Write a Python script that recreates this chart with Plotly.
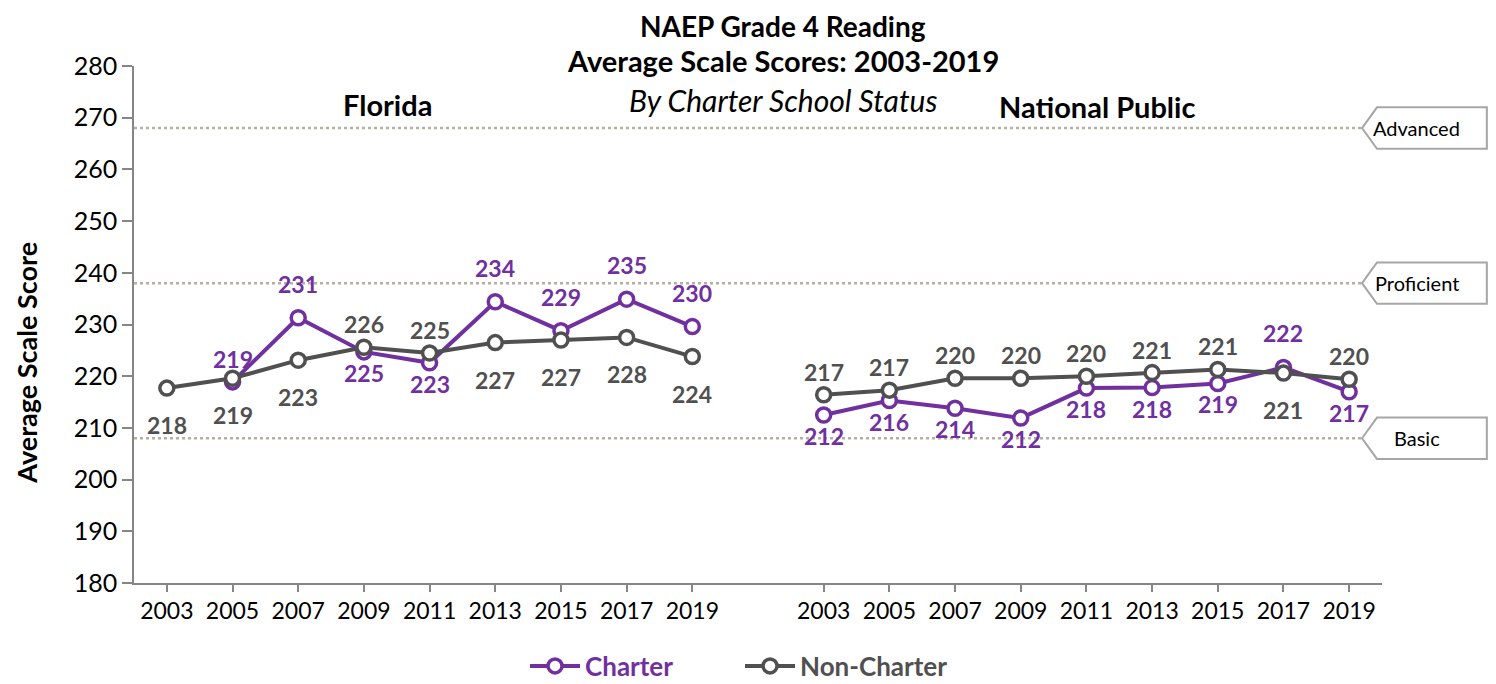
import plotly.graph_objects as go

# Category labels (Florida block, one blank slot, National Public block)
YEARS = ["2003", "2005", "2007", "2009", "2011", "2013", "2015", "2017", "2019"]

# Florida
FL_CHARTER = [None, 218.9, 231.3, 224.7, 222.6, 234.4, 228.8, 234.9, 229.6]
FL_NONCHARTER = [217.7, 219.6, 223.1, 225.6, 224.5, 226.5, 227.0, 227.5, 223.8]
FL_CHARTER_LBL = ["", "219", "231", "225", "223", "234", "229", "235", "230"]
FL_NONCHARTER_LBL = ["218", "219", "223", "226", "225", "227", "227", "228", "224"]

# National Public
NP_CHARTER = [212.5, 215.3, 213.8, 211.9, 217.7, 217.8, 218.6, 221.7, 217.0]
NP_NONCHARTER = [216.4, 217.3, 219.6, 219.6, 220.0, 220.7, 221.3, 220.6, 219.4]
NP_CHARTER_LBL = ["212", "216", "214", "212", "218", "218", "219", "222", "217"]
NP_NONCHARTER_LBL = ["217", "217", "220", "220", "220", "221", "221", "221", "220"]

# Achievement level cut scores
LEVELS = ["Advanced", "Proficient", "Basic"]
LEVEL_SCORES = [268, 238, 208]

PURPLE = "#7030A0"
GRAY = "#505050"
FONT = "Lato"

# label placement: a/b = above/below (near), A/B = above/below (far)
SHIFT = {"a": 23, "b": -21, "A": 34, "B": -37, "": 0}
FL_CHARTER_POS = ["", "a", "A", "b", "b", "A", "A", "A", "A"]
FL_NONCHARTER_POS = ["B", "B", "B", "a", "a", "B", "B", "B", "B"]
NP_CHARTER_POS = ["b", "b", "b", "b", "b", "b", "b", "A", "b"]
NP_NONCHARTER_POS = ["a", "a", "a", "a", "a", "a", "a", "B", "a"]

x_fl = list(range(len(YEARS)))
x_np = [i + len(YEARS) + 1 for i in range(len(YEARS))]

fig = go.Figure()

series = [
    ("Charter", PURPLE, FL_CHARTER, NP_CHARTER, FL_CHARTER_LBL, NP_CHARTER_LBL,
     FL_CHARTER_POS, NP_CHARTER_POS),
    ("Non-Charter", GRAY, FL_NONCHARTER, NP_NONCHARTER, FL_NONCHARTER_LBL,
     NP_NONCHARTER_LBL, FL_NONCHARTER_POS, NP_NONCHARTER_POS),
]

annotations = []
for name, color, fl, np_, fl_lbl, np_lbl, fl_pos, np_pos in series:
    for xs, ys, show in ((x_fl, fl, True), (x_np, np_, False)):
        fig.add_trace(
            go.Scatter(
                x=xs,
                y=ys,
                mode="lines+markers",
                name=f"<b><span style='color:{color}'>{name}</span></b>",
                line=dict(color=color, width=4),
                marker=dict(size=14, color="white", line=dict(color=color, width=3.5)),
                legendgroup=name,
                showlegend=show,
                connectgaps=False,
                hoverinfo="skip",
            )
        )
    for xs, ys, lbls, pos in ((x_fl, fl, fl_lbl, fl_pos), (x_np, np_, np_lbl, np_pos)):
        for xv, yv, t, p in zip(xs, ys, lbls, pos):
            if yv is None or not t:
                continue
            annotations.append(
                dict(
                    x=xv, y=yv, text=f"<b>{t}</b>", showarrow=False,
                    xanchor="center", yanchor="middle", yshift=SHIFT[p],
                    font=dict(family=FONT, size=23, color=color),
                )
            )

# Cut-score reference lines with pointer-shaped labels
shapes = []
for lvl, score in zip(LEVELS, LEVEL_SCORES):
    shapes.append(
        dict(
            type="line", xref="paper", yref="y", x0=0, x1=0.984, y0=score, y1=score,
            line=dict(color="#b5aea2", width=2.5, dash="dot"),
            layer="below",
        )
    )
    h = 4
    shapes.append(
        dict(
            type="path", xref="paper", yref="y",
            path=(f"M 0.984,{score} L 0.996,{score + h} L 1.084,{score + h} "
                  f"L 1.084,{score - h} L 0.996,{score - h} Z"),
            line=dict(color="#a6a6a6", width=2),
            fillcolor="white",
        )
    )
    annotations.append(
        dict(
            xref="paper", yref="y", x=1.028, y=score, text=lvl, showarrow=False,
            xanchor="center", yanchor="middle",
            font=dict(family=FONT, size=20, color="#000000"),
        )
    )


def paper_text(txt, x, y, size, angle=0):
    return dict(
        xref="paper", yref="paper", x=x, y=y, text=txt, showarrow=False,
        xanchor="center", yanchor="middle", textangle=angle,
        font=dict(family=FONT, size=size, color="#000000"),
    )


# Titles and panel labels
annotations += [
    paper_text("<b>NAEP Grade 4 Reading</b>", 0.52, 1.078, 28),
    paper_text("<b>Average Scale Scores: 2003-2019</b>", 0.52, 1.010, 29),
    paper_text("<i>By Charter School Status</i>", 0.52, 0.934, 30),
    paper_text("<b>Florida</b>", 0.203, 0.925, 29),
    paper_text("<b>National Public</b>", 0.772, 0.921, 29),
    paper_text("<b>Average Scale Score</b>", -0.0862, 0.427, 27, angle=-90),
]

fig.update_xaxes(
    range=[-0.5, len(x_fl) + len(x_np) + 0.5],
    tickvals=x_fl + x_np,
    ticktext=YEARS + YEARS,
    showline=True, linecolor="#868686", linewidth=1.5,
    ticks="outside", ticklen=7, tickcolor="#868686", tickwidth=1.5,
    showgrid=False, zeroline=False,
    tickfont=dict(family=FONT, size=23, color="#000000"),
)
fig.update_yaxes(
    range=[180, 280], dtick=10,
    showline=True, linecolor="#868686", linewidth=1.5,
    ticks="outside", ticklen=10, tickcolor="#868686", tickwidth=1.5,
    showgrid=False, zeroline=False,
    tickfont=dict(family=FONT, size=25, color="#000000"),
)
fig.update_layout(
    width=1480,
    height=676,
    plot_bgcolor="white",
    paper_bgcolor="white",
    margin=dict(l=126, r=106, t=58, b=101, autoexpand=False),
    showlegend=True,
    legend=dict(
        orientation="h", x=0.4856, y=-0.1605, xanchor="center", yanchor="middle",
        font=dict(family=FONT, size=26), itemwidth=50, entrywidth=150,
    ),
    shapes=shapes,
    annotations=annotations,
)

fig.write_html("out.html")
